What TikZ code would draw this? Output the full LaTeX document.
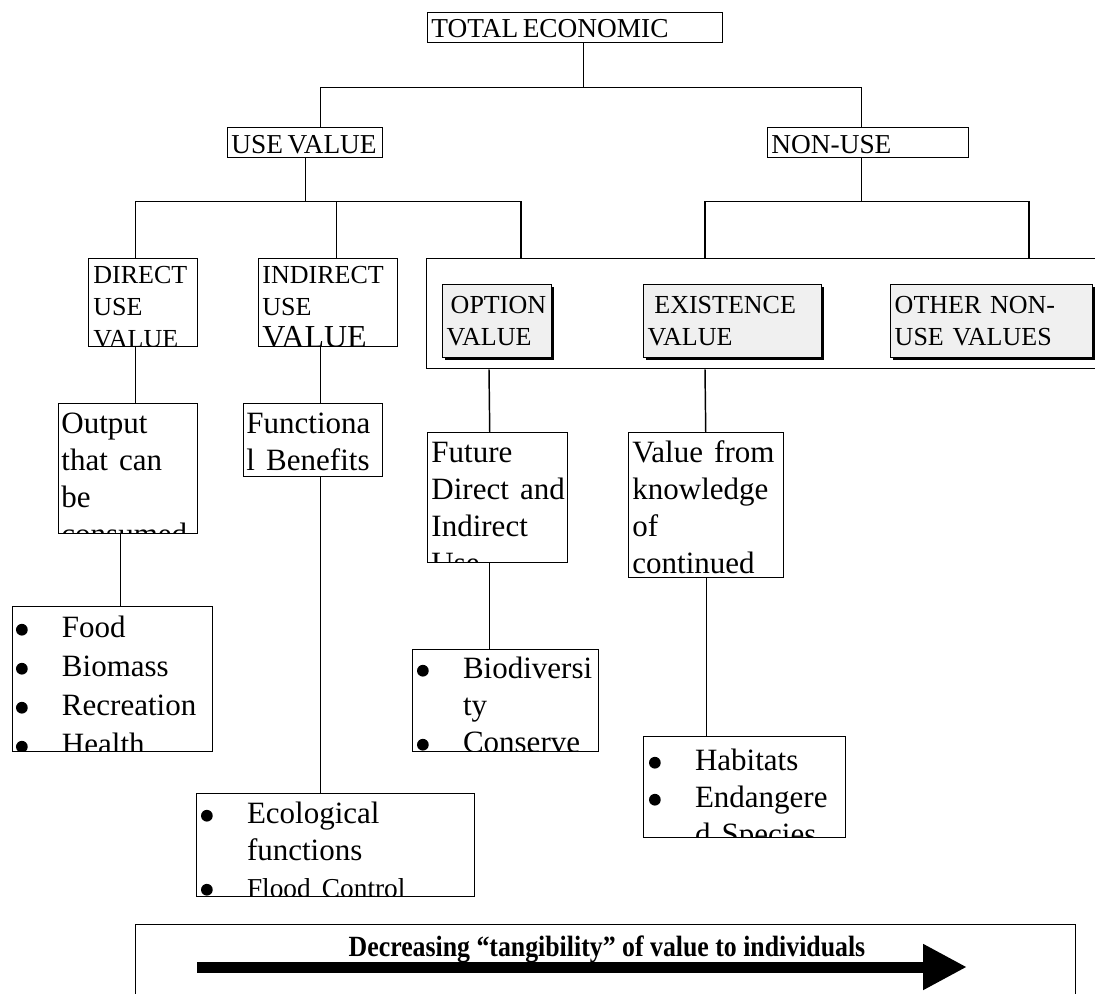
\documentclass[tikz,border=0pt]{standalone}
\usepackage{fontspec}
\setmainfont{Liberation Serif}
\usetikzlibrary{calc}
\usetikzlibrary{arrows.meta}
\usetikzlibrary{shadows}

\newcommand\ftop{\fontsize{20.5}{24}\selectfont}
\newcommand\fsmall{\fontsize{19.5}{24}\selectfont}
\newcommand\fgrey{\fontsize{19.5}{24}\selectfont}
\newcommand\fbig{\fontsize{23.25}{27.75}\selectfont\spaceskip=0.36em\relax}
\newcommand\flist{\fontsize{23.25}{29.25}\selectfont\spaceskip=0.36em\relax}
\newcommand\ftang{\bfseries\fontsize{22}{24}\selectfont}
\newcommand\bul{\makebox[34.5pt][l]{\tikz[baseline]\fill (4.4pt,6pt) circle (4.4pt);}}
\newcommand\nobul{\hspace*{34.5pt}}

\tikzset{
  box/.style={draw, line width=1.1pt, inner sep=0, anchor=north west},
  wh/.style 2 args={minimum width=#1, minimum height=#2},
  lbl/.style 2 args={path picture={
    \node[draw=none, fill=none, anchor=base west, inner sep=0, text width=300pt, align=left]
      at ($(path picture bounding box.north west)+(#1)$) {#2\endgraf};}},
  grey/.style={box, fill=black!6, inner xsep=3pt, inner ysep=0, align=left, font=\fgrey,
    drop shadow={shadow xshift=2pt, shadow yshift=-2pt, fill=black, opacity=1}},
  link/.style={line width=1.1pt},
}

\begin{document}
\begin{tikzpicture}[x=0.75pt, y=-0.75pt]
\useasboundingbox (0,0) rectangle (1095,994);
\fill[white] (0,0) rectangle (1095,994);
\clip (0,0) rectangle (1095,994);

% top levels
\node[box, wh={221.25pt}{22.5pt}, lbl={3,25}{\ftop TOTAL ECONOMIC}] (total) at (427,12) {};
\node[box, wh={116.25pt}{22.5pt}, lbl={3,26}{\ftop USE VALUE}] (use) at (227,127) {};
\node[box, wh={150.75pt}{22.5pt}, lbl={3,26}{\ftop NON-USE}] (nonuse) at (767,127) {};

\node[box, wh={81.75pt}{66pt}, lbl={4,25}{\fsmall DIRECT\\USE\\VALUE}] (direct) at (88,258) {};
\node[box, wh={104.25pt}{66pt}, lbl={3,25}{\fsmall INDIRECT\\USE\\{\fontsize{24}{24}\selectfont VALUE}}] (indirect) at (258,258) {};

% non-use group
\node[box, wh={510pt}{82.5pt}] (grp) at (426,258) {};
\node[grey, text width=75.75pt, minimum height=54.75pt] (option) at (442,284) {\hspace*{3pt}OPTION\\VALUE};
\node[grey, text width=127.5pt, minimum height=54.75pt] (existence) at (643,284) {\hspace*{5pt}EXISTENCE\\VALUE};
\node[grey, text width=145.5pt, minimum height=54.75pt] (othervals) at (890,284) {OTHER NON-\\USE VALUES};

% descriptions
\node[box, wh={104.25pt}{97.5pt}, lbl={2,30}{\fbig Output\\that can\\be\\consumed}] (output) at (58,403) {};
\node[box, wh={104.25pt}{54.75pt}, lbl={2,30}{\fbig Functiona\\l Benefits}] (functional) at (243,403) {};
\node[box, wh={105pt}{97.5pt}, lbl={3,30}{\fbig Future\\Direct and\\Indirect\\Use}] (future) at (427,432) {};
\node[box, wh={116.25pt}{108.75pt}, lbl={3,30}{\fbig Value from\\knowledge\\of\\continued}] (value) at (628,432) {};

% examples
\node[box, wh={150pt}{108.75pt}, lbl={3,31}{\flist \bul Food\\\bul Biomass\\\bul Recreation\\\bul Health}] (food) at (12,606) {};
\node[box, wh={139.5pt}{76.5pt}, lbl={4,29}{\fbig \bul Biodiversi\\\nobul ty\\\bul Conserve}] (bio) at (412,649) {};
\node[box, wh={151.5pt}{75.75pt}, lbl={5,34}{\fbig \bul Habitats\\\bul Endangere\\\nobul d Species}] (habitat) at (643,736) {};
\node[box, wh={208.5pt}{77.25pt}, lbl={4,30}{\fbig \bul Ecological\\\nobul functions\\{\fontsize{20.5}{20.5}\selectfont\bul Flood Control}}] (eco) at (196,793) {};

% tree lines
\coordinate (j0) at ($(total.south)+(8,44)$);
\coordinate (j1) at ($(use.south)+(0,43)$);
\coordinate (j2) at ($(nonuse.south)+(-7,43)$);
\draw[link] ($(total.south)+(8,0)$) -- (j0);
\draw[link] ($(use.north)+(15,0)$) |- (j0) -| ($(nonuse.north)+(-7,0)$);
\draw[link] (use.south) -- (j1);
\draw[link] ($(direct.north)+(-7.5,0)$) |- (j1) -| ($(grp.north west)+(95,0)$);
\draw[link] ($(indirect.north)+(8,0)$) |- (j1);
\draw[link] ($(nonuse.south)+(-7,0)$) -- (j2);
\draw[link] ($(grp.north west)+(279,0)$) |- (j2) -| ($(grp.north west)+(603,0)$);

\draw[link] ($(direct.south)+(-7.5,0)$) -- ($(output.north)+(7.5,0)$);
\draw[link] ($(indirect.south)+(-7.5,0)$) -- ($(functional.north)+(7.5,0)$);
\draw[link] ($(output.south)+(-7.5,0)$) -- ($(food.north)+(8,0)$);
\draw[link] ($(functional.south)+(7.5,0)$) -- ($(eco.north)+(-15,0)$);
\draw[link] ($(grp.south west)+(63,0)$) -- ($(future.north)+(-8,0)$);
\draw[link] ($(future.south)+(-8,0)$) -- ($(bio.north)+(-16,0)$);
\draw[link] ($(grp.south west)+(279,0)$) -- ($(value.north)+(-0.5,0)$);
\draw[link] (value.south) -- ($(habitat.north)+(-38.5,0)$);

% tangibility scale
\node[box, wh={705pt}{75pt}] (scalebox) at (135,924) {};
\node[font=\ftang, anchor=base] (tang) at (607,956) {\scalebox{0.88}[1]{Decreasing ``tangibility'' of value to individuals}};
\coordinate (arrS) at (197,967);
\coordinate (arrE) at (967,967);
\draw[line width=8.25pt, -{Triangle[length=33pt, width=32.25pt]}] (arrS) -- (arrE);
\end{tikzpicture}
\end{document}
